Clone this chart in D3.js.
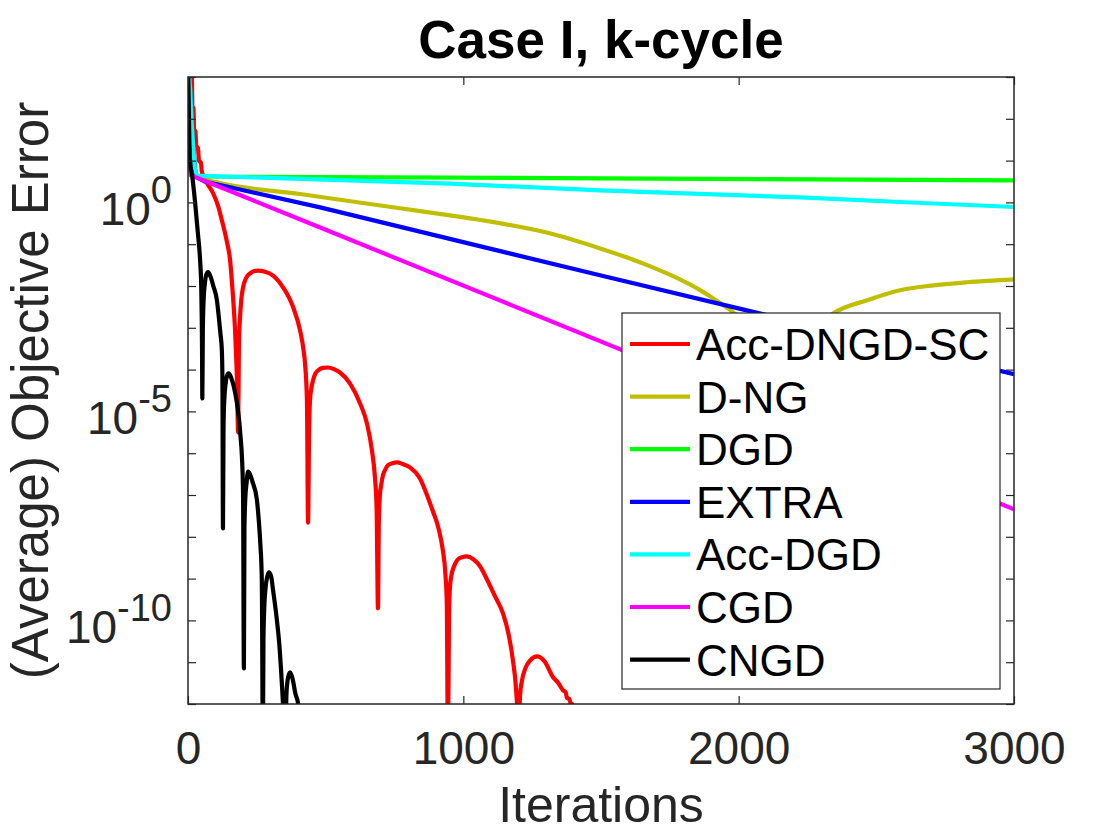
<!DOCTYPE html>
<html>
<head>
<meta charset="utf-8">
<script src="https://cdn.jsdelivr.net/npm/d3@7"></script>
<style>
  body { margin: 0; background: #fff; }
  svg text { font-family: "Liberation Sans", Arial, Helvetica, sans-serif; }
</style>
</head>
<body>
<div id="chart"></div>
<script>
// values, error stored as log10(error)
const iterTicks = [0, 1000, 2000, 3000];
const yTickExponents = d3.range(-12, 4);
const yLabelExponents = [0, -5, -10];

const accDngdScIter = [0, 14, 16, 20, 22, 27, 30, 36, 40, 47, 50, 55, 70, 91, 110, 123, 140, 153, 160, 167, 171, 175, 178, 182,
  185, 189, 194, 200, 210, 225, 254, 280, 309, 345, 382, 407, 420, 425, 432, 436,
  440, 443, 448, 454, 462, 472, 490, 509, 530, 552, 588, 625, 650, 668, 679, 685, 690,
  693, 697, 702, 708, 716, 726, 742, 759, 780, 806, 842, 868, 890, 910, 925, 935, 940, 944,
  948, 951, 956, 962, 970, 980, 995, 1013, 1035, 1060, 1086, 1115, 1144, 1165, 1181, 1191, 1196, 1199,
  1203, 1206, 1213, 1225, 1242, 1268, 1295, 1326, 1345, 1362, 1372, 1376, 1385, 1389, 1395, 1400];
const accDngdScLogErr = [3.4, 2.95, 2.3, 2.25, 1.75, 1.7, 1.35, 1.3, 1.0, 0.95, 0.75, 0.65, 0.45, 0.22, -0.1, -0.43, -0.9, -1.39, -1.94, -2.6, -3.06, -3.7, -4.26, -5.5,
  -3.4, -2.75, -2.3, -2.03, -1.82, -1.70, -1.63, -1.66, -1.75, -2.03, -2.51, -3.06, -3.55, -3.85, -4.74, -7.66,
  -5.4, -4.74, -4.45, -4.26, -4.1, -4.02, -3.96, -3.95, -3.99, -4.07, -4.33, -4.81, -5.29, -5.93, -6.58, -7.3, -9.71,
  -7.7, -7.0, -6.75, -6.53, -6.4, -6.29, -6.24, -6.22, -6.26, -6.34, -6.6, -7.0, -7.4, -7.8, -8.3, -8.9, -9.6, -13,
  -9.9, -9.25, -8.95, -8.78, -8.65, -8.54, -8.49, -8.47, -8.53, -8.7, -9.02, -9.42, -9.83, -10.35, -11.0, -11.6, -12.2, -13,
  -12.3, -11.8, -11.44, -11.15, -10.96, -10.86, -10.98, -11.36, -11.5, -11.67, -11.72, -11.85, -11.88, -11.97, -12.0, -12.3];

const dngIter = [0, 6, 15, 25, 33, 40, 105, 407, 770, 952, 1134, 1320, 1497, 1600, 1679, 1760, 1860, 1920, 1980, 2060, 2110, 2150, 2165,
  2185, 2230, 2290, 2343, 2467, 2586, 2700, 2830, 3000];
const dngLogErr = [3.4, 2.9, 1.7, 0.8, 0.62, 0.6, 0.48, 0.2, -0.14, -0.31, -0.5, -0.75, -1.10, -1.33, -1.53, -1.76, -2.1, -2.35, -2.63, -3.1, -3.7, -5, -7,
  -4.5, -3.5, -2.95, -2.66, -2.34, -2.1, -1.99, -1.91, -1.84];

const dgdIter = [0, 6, 15, 25, 33, 1500, 3000];
const dgdLogErr = [3.4, 2.9, 1.7, 0.8, 0.62, 0.575, 0.526];

const extraIter = [0, 6, 15, 25, 33, 60, 480, 1500, 3000];
const extraLogErr = [3.4, 2.9, 1.7, 0.8, 0.6, 0.5, -0.12, -1.75, -4.11];

const accDgdIter = [0, 6, 15, 25, 33, 950, 1497, 2223, 2586, 3000];
const accDgdLogErr = [3.4, 2.9, 1.7, 0.8, 0.64, 0.45, 0.29, 0.12, 0.01, -0.11];

const cgdIter = [0, 4, 10, 480, 3000];
const cgdLogErr = [2.1, 1.2, 0.65, -0.6, -7.34];

const cngdIter = [0, 3, 7, 15, 25, 36, 44, 48, 50, 51, 52,
  54, 57, 62, 67, 73, 82, 92, 105, 112, 118, 123, 125, 127,
  129, 132, 137, 142, 148, 157, 167, 177, 185, 191, 196, 200, 203,
  205, 208, 213, 218, 225, 235, 250, 257, 263, 268, 272,
  274, 277, 282, 288, 294, 302, 309, 323, 332, 339, 345, 349, 352,
  355, 358, 364, 371, 380, 390, 400, 403];
const cngdLogErr = [3.4, 2.2, 1.0, 0.65, 0.05, -0.74, -1.39, -2.0, -2.8, -3.5, -4.69,
  -3.0, -2.3, -1.9, -1.72, -1.67, -1.78, -2.0, -2.34, -2.75, -3.15, -3.54, -4.2, -7.8,
  -5.4, -4.7, -4.32, -4.14, -4.09, -4.2, -4.42, -4.77, -5.17, -5.62, -6.1, -7.0, -11.15,
  -7.8, -7.1, -6.7, -6.44, -6.5, -6.7, -7.1, -7.6, -8.2, -9.0, -13,
  -10.5, -9.7, -9.2, -8.95, -8.85, -8.95, -9.28, -10.0, -10.6, -11.3, -12.0, -12.6, -13,
  -12.4, -11.7, -11.35, -11.24, -11.4, -11.75, -12.0, -12.4];

const seriesNames = ['Acc-DNGD-SC', 'D-NG', 'DGD', 'EXTRA', 'Acc-DGD', 'CGD', 'CNGD'];
const seriesColors = ['#ff0000', '#bfbf00', '#00ff00', '#0000ff', '#00ffff', '#ff00ff', '#000000'];
const seriesSmooth = [true, true, false, false, false, false, true];
const seriesIters = [accDngdScIter, dngIter, dgdIter, extraIter, accDgdIter, cgdIter, cngdIter];
const seriesLogErr = [accDngdScLogErr, dngLogErr, dgdLogErr, extraLogErr, accDgdLogErr, cgdLogErr, cngdLogErr];

const series = seriesNames.map((name, i) => ({
  name: name,
  color: seriesColors[i],
  smooth: seriesSmooth[i],
  values: seriesIters[i].map((it, j) => ({it: it, err: Math.pow(10, seriesLogErr[i][j])}))
}));

const width = 1120, height = 840;
const box = {left: 188, top: 77, right: 1014, bottom: 704};
const axisColor = '#262626';
const tickLen = 8;
const lineW = 4.2;

const svg = d3.select('#chart').append('svg')
  .attr('width', width)
  .attr('height', height);

const x = d3.scaleLinear().domain([0, 3000]).range([box.left, box.right]);
const y = d3.scaleLog().domain([1e-12, 1e3]).range([box.bottom, box.top]);

svg.append('defs').append('clipPath').attr('id', 'plotclip')
  .append('rect')
  .attr('x', box.left).attr('y', box.top)
  .attr('width', box.right - box.left).attr('height', box.bottom - box.top);

// lines
const smoothLine = d3.line().curve(d3.curveMonotoneX).x(d => x(d.it)).y(d => y(d.err));
const straightLine = d3.line().x(d => x(d.it)).y(d => y(d.err));
svg.append('g').attr('clip-path', 'url(#plotclip)')
  .selectAll('path').data(series).enter().append('path')
  .attr('d', d => d.smooth ? smoothLine(d.values) : straightLine(d.values))
  .attr('fill', 'none')
  .attr('stroke', d => d.color)
  .attr('stroke-width', lineW)
  .attr('stroke-linejoin', 'round');

// axes, ticks point inward
function styleAxis(g){
  g.select('.domain').remove();
  g.selectAll('.tick line').attr('stroke', axisColor).attr('stroke-width', 1.2);
  g.selectAll('.tick text').attr('fill', axisColor);
}

svg.append('g').attr('transform', 'translate(0,' + box.bottom + ')')
  .call(d3.axisBottom(x).tickValues(iterTicks).tickSizeInner(-tickLen).tickSizeOuter(0).tickPadding(27).tickFormat(d3.format('d')))
  .call(styleAxis)
  .selectAll('text').style('font-size', '46px');

svg.append('g').attr('transform', 'translate(0,' + box.top + ')')
  .call(d3.axisTop(x).tickValues(iterTicks).tickSizeInner(-tickLen).tickSizeOuter(0).tickFormat(''))
  .call(styleAxis);

const yTicks = yTickExponents.map(e => Math.pow(10, e));
svg.append('g').attr('transform', 'translate(' + box.left + ',0)')
  .call(d3.axisLeft(y).tickValues(yTicks).tickSizeInner(-tickLen).tickSizeOuter(0).tickFormat(''))
  .call(styleAxis);

svg.append('g').attr('transform', 'translate(' + box.right + ',0)')
  .call(d3.axisRight(y).tickValues(yTicks).tickSizeInner(-tickLen).tickSizeOuter(0).tickFormat(''))
  .call(styleAxis);

svg.append('rect')
  .attr('x', box.left).attr('y', box.top)
  .attr('width', box.right - box.left).attr('height', box.bottom - box.top)
  .attr('fill', 'none')
  .attr('stroke', axisColor)
  .attr('stroke-width', 1.5);

// y tick labels 10^e
const ylab = svg.selectAll('.ylabel').data(yLabelExponents).enter().append('text')
  .attr('class', 'ylabel')
  .attr('x', 172)
  .attr('y', d => y(Math.pow(10, d)) + 23)
  .attr('text-anchor', 'end')
  .attr('fill', axisColor)
  .style('font-size', '46px');
ylab.append('tspan').text('10');
ylab.append('tspan').attr('dy', -22).style('font-size', '38px').text(d => d);

// titles
svg.append('text')
  .attr('x', (box.left + box.right) / 2).attr('y', 58)
  .attr('text-anchor', 'middle')
  .style('font-size', '53px').style('font-weight', 'bold')
  .attr('fill', '#000')
  .text('Case I, k-cycle');

svg.append('text')
  .attr('x', (box.left + box.right) / 2).attr('y', 822)
  .attr('text-anchor', 'middle')
  .style('font-size', '50px')
  .attr('fill', axisColor)
  .text('Iterations');

svg.append('text')
  .attr('transform', 'translate(48,' + (box.top + box.bottom) / 2 + ') rotate(-90)')
  .attr('text-anchor', 'middle')
  .style('font-size', '51px')
  .attr('fill', axisColor)
  .text('(Average) Objective Error');

// legend
const legend = {x: 622, y: 313, w: 378, h: 376, row0: 344, step: 52.6};
svg.append('rect')
  .attr('x', legend.x).attr('y', legend.y)
  .attr('width', legend.w).attr('height', legend.h)
  .attr('fill', '#fff')
  .attr('stroke', axisColor)
  .attr('stroke-width', 1.2);

const items = svg.selectAll('.legend_item').data(series).enter().append('g')
  .attr('class', 'legend_item')
  .attr('transform', (d, i) => 'translate(0,' + (legend.row0 + legend.step * i) + ')');
items.append('line')
  .attr('x1', 630).attr('x2', 690)
  .attr('stroke', d => d.color)
  .attr('stroke-width', lineW);
items.append('text')
  .attr('x', 696).attr('y', 16)
  .style('font-size', '44px')
  .attr('fill', '#000')
  .text(d => d.name);
</script>
</body>
</html>
